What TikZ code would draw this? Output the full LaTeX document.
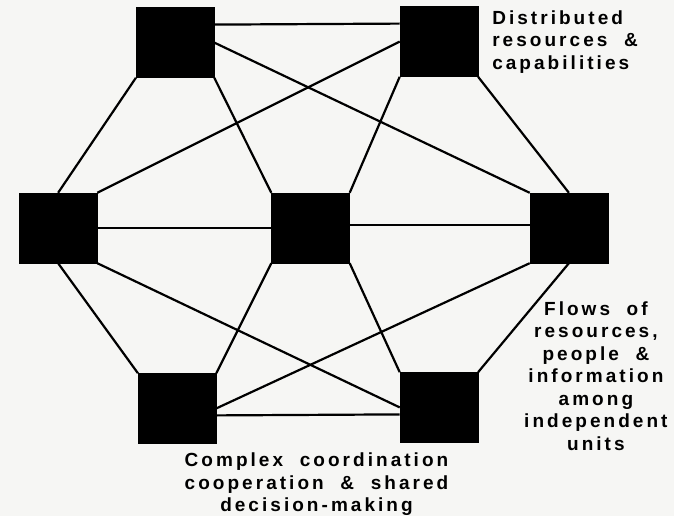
\documentclass[tikz,border=0pt]{standalone}
\usepackage{fontspec}
\usepackage{tikz}
\usetikzlibrary{positioning}
\newfontfamily\netfont[LetterSpace=16, WordSpace=2]{Liberation Sans}
\definecolor{paperGrey}{HTML}{F6F6F4}

\begin{document}
\begin{tikzpicture}[
  x=1pt, y=1pt,
  unitbox/.style={draw, fill=black, minimum width=78pt, minimum height=70pt, inner sep=0pt},
  link/.style={draw=black, line width=2.2pt},
  note/.style={align=center, inner sep=0pt, font=\netfont\bfseries\fontsize{19}{22.5}\selectfont},
]
\useasboundingbox[fill=paperGrey] (0,0) rectangle (674,-516);

\node[unitbox] (c) at (310.5,-228) {};
\node[unitbox, left=174pt of c] (l) {};
\node[unitbox, right=180pt of c] (r) {};
\node[unitbox, above left=115pt and 57pt of c] (tl) {};
\node[unitbox, above right=116pt and 50pt of c] (tr) {};
\node[unitbox, below left=110pt and 55pt of c] (bl) {};
\node[unitbox, below right=109pt and 50pt of c] (br) {};

\draw[link] ([yshift=18pt]tl.east) -- ([yshift=18pt]tr.west);
\draw[link] (tl.east) -- (r.north west);
\draw[link] (tr.west) -- (l.north east);
\draw[link] (tl.south west) -- (l.north);
\draw[link] (tl.south east) -- (c.north west);
\draw[link] (tr.south west) -- (c.north east);
\draw[link] (tr.south east) -- (r.north);
\draw[link] (l.east |- c.west) -- (c.west);
\draw[link] ([yshift=3pt]c.east) -- ([yshift=3pt]r.west);
\draw[link] (l.south) -- (bl.north west);
\draw[link] (l.south east) -- (br.west);
\draw[link] (c.south west) -- (bl.north east);
\draw[link] (c.south east) -- (br.north west);
\draw[link] (r.south west) -- (bl.east);
\draw[link] (r.south) -- (br.north east);
\draw[link] ([yshift=-7pt]bl.east) -- ([yshift=-7pt]br.west);

\node[note, align=left, anchor=north west] (dist) at ([xshift=14pt,yshift=-4pt]tr.north east)
  {Distributed\\ resources \&\\ capabilities};
\node[note, anchor=north] (flows) at ([xshift=27pt,yshift=-38pt]r.south)
  {Flows of\\ resources,\\ people \&\\ information\\ among\\ independent\\ units};
\node[note, anchor=north] (coord) at ([xshift=6pt,yshift=-9pt]c.south |- bl.south)
  {Complex coordination\\ cooperation \& shared\\ decision-making};
\end{tikzpicture}
\end{document}
